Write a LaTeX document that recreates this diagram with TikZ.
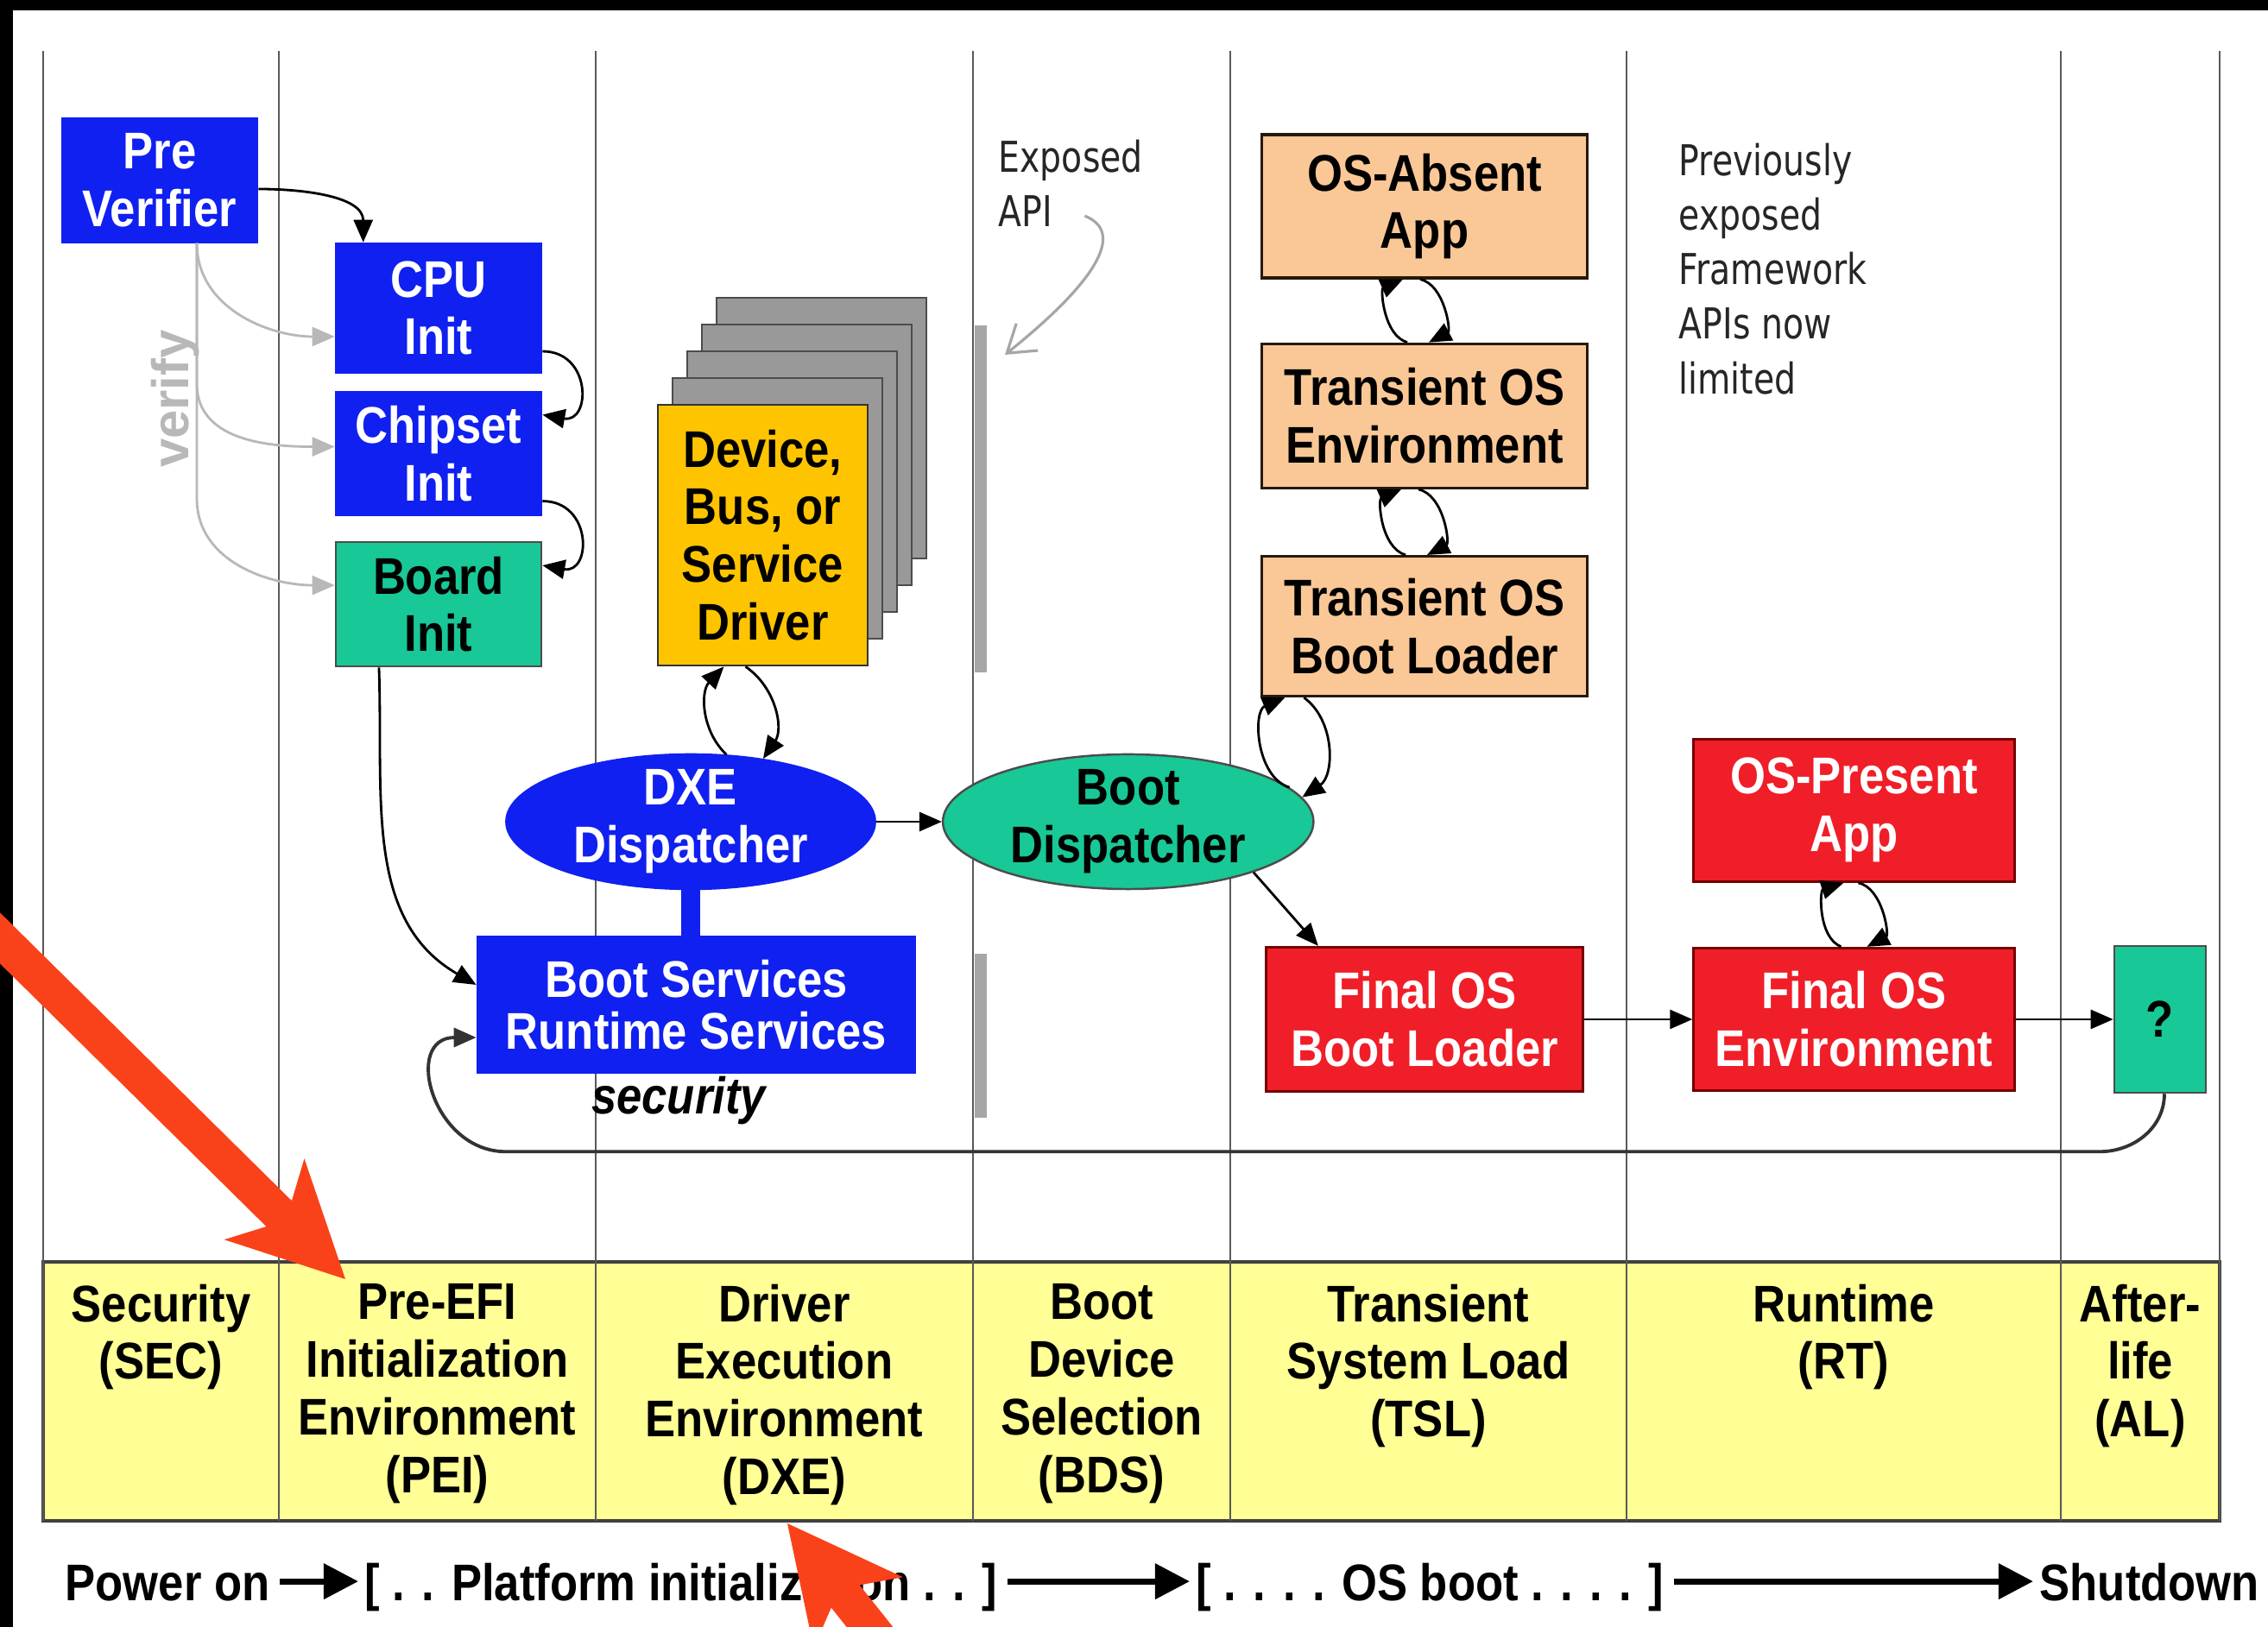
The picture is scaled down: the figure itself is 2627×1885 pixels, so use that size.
\documentclass[tikz,border=0pt]{standalone}
\usepackage{fontspec}
\setmainfont{Liberation Sans}[FakeStretch=0.88]
\newfontfamily\handfont{DejaVu Sans}[FakeStretch=0.8]
\newfontfamily\plainsans{Liberation Sans}
\usepackage{xcolor}
\definecolor{uefiblue}{RGB}{16,32,240}
\definecolor{uefigreen}{RGB}{24,200,150}
\definecolor{uefipeach}{RGB}{250,200,150}
\definecolor{uefired}{RGB}{240,30,40}
\definecolor{uefiamber}{RGB}{255,196,0}
\definecolor{uefiband}{RGB}{255,255,150}
\definecolor{uefimark}{RGB}{250,66,26}
\usetikzlibrary{arrows.meta,positioning,shapes.geometric,calc}
\newcommand{\bx}{\fontsize{17pt}{19pt}\selectfont\bfseries}
\newcommand{\hx}{\handfont\fontsize{14pt}{18pt}\selectfont}
\newcommand{\vx}{\plainsans\fontsize{17pt}{19pt}\selectfont\bfseries}
\tikzset{
  sz/.style 2 args={minimum width=#1cm, minimum height=#2cm},
  nb/.style={draw, align=center, font=\bx, inner sep=1pt, line width=0.7pt},
  nblue/.style={nb, fill=uefiblue, draw=uefiblue, text=white},
  ngreen/.style={nb, fill=uefigreen, draw=black!70, text=black},
  npeach/.style={nb, fill=uefipeach, draw=black!80!brown, line width=0.9pt},
  nred/.style={nb, fill=uefired, draw=red!45!black, text=white, line width=0.9pt},
  namber/.style={nb, fill=uefiamber, draw=black!80},
  disp/.style={ellipse, inner ysep=-3pt},
  glayer/.style={fill=black!40, draw=black!70, line width=0.6pt},
  phase/.style={font=\bx, align=center, anchor=north, inner sep=0pt},
  note/.style={font=\hx, align=left, anchor=north west, inner sep=0pt, text=black!85},
  lane/.style={draw=black!65, line width=0.8pt},
  apibar/.style={draw=black!35, line width=4pt},
  ar/.style={-{Triangle[length=2.6mm,width=2.2mm]}, draw=black, line width=0.8pt},
  gar/.style={ar, draw=black!28},
  harr/.style={-{Straight Barb[length=3mm,width=4mm]}, draw=black!35, line width=0.9pt},
  ret/.style={ar, draw=black!80, line width=1.1pt},
  btm/.style={font=\bx, inner sep=0pt, anchor=base west, text height=13pt, text depth=0pt},
  bar/.style={-{Triangle[length=4mm,width=4mm]}, line width=2pt, shorten <=3pt, shorten >=2pt},
  redarr/.style={fill=uefimark},
}

\begin{document}
\begin{tikzpicture}[x=0.01cm, y=0.01cm]
  \useasboundingbox (0,0) rectangle (2627,1885);
  \fill[white] (0,0) rectangle (2627,1885);
  % phase band and lanes
  \draw[fill=uefiband, draw=black!75, line width=1.2pt] (50,123) rectangle (2571,423);
  \foreach \lx in {50,323,690,1127,1425,1884,2387,2571}
    \draw[lane] (\lx,123) -- (\lx,1826);
  \foreach \nm/\cx/\txt in {psec/186.5/{Security\\(SEC)},
      ppei/506.5/{Pre-EFI\\Initialization\\Environment\\(PEI)},
      pdxe/908.5/{Driver\\Execution\\Environment\\(DXE)},
      pbds/1276/{Boot\\Device\\Selection\\(BDS)},
      ptsl/1654.5/{Transient\\System Load\\(TSL)},
      prt/2135.5/{Runtime\\(RT)},
      pal/2479/{After-\\life\\(AL)}}
    \node[phase] (\nm) at (\cx,398) {\txt};
  \draw[apibar] (1136,1106) -- (1136,1508);
  \draw[apibar] (1136,590) -- (1136,780);

  % SEC / PEI
  \node[nblue, sz={2.26}{1.43}] (pv) at (185,1676) {Pre\\Verifier};
  \node[nblue, sz={2.38}{1.50}] (cpu) at (508,1528) {CPU\\Init};
  \node[nblue, sz={2.38}{1.42}, below=0.2cm of cpu] (chip) {Chipset\\Init};
  \node[ngreen, sz={2.38}{1.44}, below=0.29cm of chip] (board) {Board\\Init};
  \node[font=\vx, text=black!28, rotate=90] (vfy) at (203,1423) {verify};
  \foreach \n/\d/\s in {cpu/0/-0.33cm, chip/163/0.08cm, board/296/0.22cm}
    \draw[gar] ([xshift=0.43cm]pv.south) -- ++(0,-\d) to[out=-90,in=180] ([yshift=\s]\n.west);
  \draw[ar] ([yshift=-0.1cm]pv.east) to[out=0,in=90] ([xshift=0.33cm]cpu.north west);
  \draw[ar] ([yshift=-0.5cm]cpu.east) to[out=0,in=-10,looseness=2] ([yshift=0.45cm]chip.east);
  \draw[ar] ([yshift=-0.55cm]chip.east) to[out=0,in=-10,looseness=2] ([yshift=0.45cm]board.east);

  % DXE
  \foreach \k in {4,3,2,1}
    \draw[glayer] (762+17*\k,1114+31*\k) rectangle ++(243,302);
  \node[namber, sz={2.43}{3.02}] (drv) at (883.5,1265) {Device,\\Bus, or\\Service\\Driver};
  \node[nblue, disp, sz={4.27}{1.56}] (dxe) at (800,933) {DXE\\Dispatcher};
  \node[nblue, sz={5.07}{1.58}, font=\fontsize{17pt}{17pt}\selectfont\bfseries] (bs) at (806.5,721) {Boot Services\\Runtime Services};
  \node[font=\bx\itshape] (secnote) at (786,610) {security};
  \draw[uefiblue, line width=6pt] (dxe.south) -- (dxe.south |- bs.north);
  \draw[ar] (dxe.62) to[bend left=45] ([xshift=-0.45cm]drv.south);
  \draw[ar] ([xshift=-0.2cm]drv.south) to[bend left=45] (dxe.41);
  \draw[ar] ([xshift=-0.69cm]board.south) to[out=-88,in=150] ([yshift=0.23cm]bs.west);

  % BDS
  \node[ngreen, disp, sz={4.29}{1.56}, right=0.76cm of dxe] (bd) {Boot\\Dispatcher};
  \draw[ar] (dxe) -- (bd);
  \node[note] (api) at (1156,1724) {Exposed\\API};
  \coordinate (apitip) at (1164,1474);
  \draw[harr] ([shift={(-68,13)}]api.south east) .. controls +(50,-20) and +(100,80) .. (apitip);

  % TSL
  \node[npeach, sz={3.76}{1.66}] (osa) at (1650,1646) {OS-Absent\\App};
  \node[npeach, sz={3.76}{1.67}, below=0.73cm of osa] (toe) {Transient OS\\Environment};
  \node[npeach, sz={3.76}{1.62}, below=0.76cm of toe] (tobl) {Transient OS\\Boot Loader};
  \node[nred, sz={3.67}{1.67}] (fobl) at (1650,704) {Final OS\\Boot Loader};
  \draw[ar] ([xshift=-0.2cm]toe.north) to[bend left=70] ([xshift=-0.25cm]osa.south);
  \draw[ar] ([xshift=-0.05cm]osa.south) to[bend left=70] ([xshift=0.05cm]toe.north);
  \draw[ar] ([xshift=-0.22cm]tobl.north) to[bend left=70] ([xshift=-0.27cm]toe.south);
  \draw[ar] ([xshift=-0.07cm]toe.south) to[bend left=70] ([xshift=0.03cm]tobl.north);
  \draw[ar] (bd.12) to[bend left=70] ([xshift=0.28cm]tobl.south west);
  \draw[ar] ([xshift=0.5cm]tobl.south west) to[bend left=55] (bd.8);
  \draw[ar] (bd.-22) -- ([xshift=0.62cm]fobl.north west);

  % RT / AL
  \node[note] (prev) at (1944,1720) {Previously\\exposed\\Framework\\APIs now\\limited};
  \node[nred, sz={3.71}{1.65}, right=1.25cm of fobl] (foe) {Final OS\\Environment};
  \node[nred, sz={3.71}{1.65}, above=0.74cm of foe] (osp) {OS-Present\\App};
  \node[ngreen, sz={1.06}{1.70}, right=1.13cm of foe] (q) {?};
  \draw[ar] ([xshift=-0.15cm]foe.north) to[bend left=70] ([xshift=-0.12cm]osp.south);
  \draw[ar] ([xshift=0.05cm]osp.south) to[bend left=70] ([xshift=0.15cm]foe.north);
  \draw[ar] (fobl) -- (foe);
  \draw[ar] (foe) -- (q);
  \draw[ret] ([xshift=0.05cm]q.south) to[out=-90,in=0] ++(-75,-67) -- ++(-1846,0)
    to[out=180,in=180,looseness=1.6] ([yshift=-0.38cm]bs.west);

  % bottom line
  \node[btm] (pon) at (75,30) {Power on};
  \node[btm] (plat) at (422,30) {[ . . Platform initialization . . ]};
  \node[btm] (osb) at (1385,30) {[ . . . . OS boot . . . . ]};
  \node[btm] (sd) at (2362,30) {Shutdown};
  \draw[bar] (pon) -- (plat);
  \draw[bar] (plat) -- (osb);
  \draw[bar] (osb) -- (sd);

  % frame and red markers
  \fill[black] (0,1873) rectangle (2627,1885);
  \fill[black] (0,0) rectangle (15,1885);
  \begin{scope}
    \clip (0,0) rectangle (2627,1885);
    \foreach \px/\py/\ang in {400/403/-44.65, 912/120/128.5}
      \fill[redarr, shift={(\px,\py)}, rotate=\ang]
        (-650,21) -- (-108,21) -- (-132,66) -- (0,0) -- (-132,-66) -- (-108,-21) -- (-650,-21) -- cycle;
  \end{scope}
\end{tikzpicture}
\end{document}
